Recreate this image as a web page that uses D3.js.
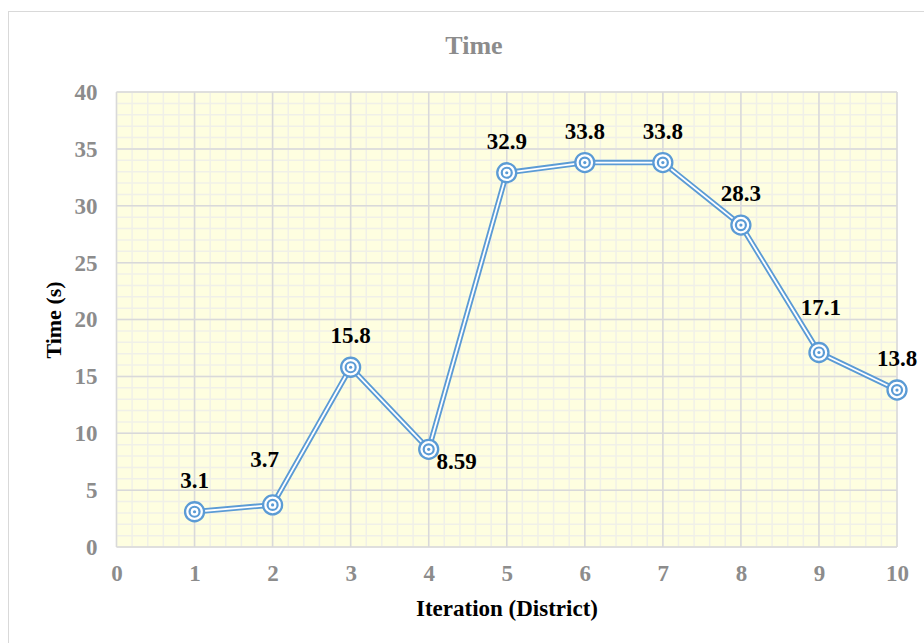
<!DOCTYPE html>
<html>
<head>
<meta charset="utf-8">
<script src="https://cdn.jsdelivr.net/npm/d3@7"></script>
<style>
  html, body { margin: 0; padding: 0; background: #fff; }
  svg { display: block; }
  text { font-family: "Liberation Serif", "Times New Roman", serif; font-weight: bold; }
</style>
</head>
<body>
<script>
// Run time per iteration (district)
const iterations = [1, 2, 3, 4, 5, 6, 7, 8, 9, 10];
const times = [3.1, 3.7, 15.8, 8.59, 32.9, 33.8, 33.8, 28.3, 17.1, 13.8];
const valueLabels = ["3.1", "3.7", "15.8", "8.59", "32.9", "33.8", "33.8", "28.3", "17.1", "13.8"];
const xTicks = [0, 1, 2, 3, 4, 5, 6, 7, 8, 9, 10];
const yTicks = [0, 5, 10, 15, 20, 25, 30, 35, 40];

const W = 924, H = 643;
const margin = { left: 116.5, right: 27, top: 92, bottom: 96 };
const blue = "#5b9bd5";

const svg = d3.select("body").append("svg").attr("width", W).attr("height", H);

// chart frame
svg.append("rect")
  .attr("x", 8.5).attr("y", 11.5)
  .attr("width", W).attr("height", H)
  .attr("fill", "#fff").attr("stroke", "#d9d9d9").attr("stroke-width", 1);

const x = d3.scaleLinear().domain([0, 10]).range([margin.left, W - margin.right]);
const y = d3.scaleLinear().domain([0, 40]).range([H - margin.bottom, margin.top]);

// plot background
svg.append("rect")
  .attr("x", x(0)).attr("y", y(40))
  .attr("width", x(10) - x(0)).attr("height", y(0) - y(40))
  .attr("fill", "#fefee0");

const grid = svg.append("g");
// minor grid
grid.selectAll("line.minor-x").data(d3.range(0, 10.001, 0.2))
  .join("line").attr("class", "minor-x")
  .attr("x1", d => x(d)).attr("x2", d => x(d))
  .attr("y1", y(0)).attr("y2", y(40))
  .attr("stroke", "#f0f0e8").attr("stroke-width", 1.5);
grid.selectAll("line.minor-y").data(d3.range(0, 40.001, 1))
  .join("line").attr("class", "minor-y")
  .attr("y1", d => y(d)).attr("y2", d => y(d))
  .attr("x1", x(0)).attr("x2", x(10))
  .attr("stroke", "#f0f0e8").attr("stroke-width", 1.5);
// major grid
grid.selectAll("line.major-x").data(xTicks)
  .join("line").attr("class", "major-x")
  .attr("x1", d => x(d)).attr("x2", d => x(d))
  .attr("y1", y(0)).attr("y2", y(40))
  .attr("stroke", "#d9d9d9").attr("stroke-width", 1.5);
grid.selectAll("line.major-y").data(yTicks)
  .join("line").attr("class", "major-y")
  .attr("y1", d => y(d)).attr("y2", d => y(d))
  .attr("x1", x(0)).attr("x2", x(10))
  .attr("stroke", "#d9d9d9").attr("stroke-width", 1.5);

// axes (labels only, no domain or ticks)
const xAxis = svg.append("g")
  .attr("transform", `translate(0,${y(0)})`)
  .call(d3.axisBottom(x).tickValues(xTicks).tickSize(0).tickPadding(18).tickFormat(d3.format("d")));
const yAxis = svg.append("g")
  .attr("transform", `translate(${x(0)},0)`)
  .call(d3.axisLeft(y).tickValues(yTicks).tickSize(0).tickPadding(19).tickFormat(d3.format("d")));
[xAxis, yAxis].forEach(g => {
  g.select(".domain").remove();
  g.selectAll("text")
    .attr("fill", "#8c8c8c")
    .style("font-family", "'Liberation Serif', 'Times New Roman', serif")
    .style("font-weight", "bold")
    .style("font-size", "23px");
});

// title and axis titles
svg.append("text")
  .attr("x", 474).attr("y", 54)
  .attr("text-anchor", "middle")
  .attr("fill", "#8c8c8c")
  .style("font-size", "26px")
  .text("Time");
svg.append("text")
  .attr("x", 507).attr("y", 616)
  .attr("text-anchor", "middle")
  .attr("fill", "#000")
  .style("font-size", "23px")
  .text("Iteration (District)");
svg.append("text")
  .attr("transform", "translate(61,320) rotate(-90)")
  .attr("text-anchor", "middle")
  .attr("fill", "#000")
  .style("font-size", "22px")
  .text("Time (s)");

// double-stroke line
const line = d3.line().x((d, i) => x(iterations[i])).y(d => y(d));
svg.append("path").datum(times)
  .attr("d", line).attr("fill", "none")
  .attr("stroke", blue).attr("stroke-width", 5.5).attr("stroke-linejoin", "round");
svg.append("path").datum(times)
  .attr("d", line).attr("fill", "none")
  .attr("stroke", "#fff").attr("stroke-width", 1.8).attr("stroke-linejoin", "round");

// concentric-circle markers
const markers = svg.append("g").selectAll("g").data(times).join("g")
  .attr("transform", (d, i) => `translate(${x(iterations[i])},${y(d)})`);
markers.append("circle").attr("r", 9.5)
  .attr("fill", "#fff").attr("stroke", blue).attr("stroke-width", 2.3);
markers.append("circle").attr("r", 5)
  .attr("fill", "#fff").attr("stroke", blue).attr("stroke-width", 2.2);
markers.append("circle").attr("r", 1.6).attr("fill", blue);

// value labels: above the point, with a few nudged to avoid the line
const labelShift = { 1: [-8, -14], 3: [28, 44], 8: [2, -13] };
svg.append("g").selectAll("text").data(times).join("text")
  .attr("x", (d, i) => x(iterations[i]) + (labelShift[i] ? labelShift[i][0] : 0))
  .attr("y", (d, i) => y(d) - 24 + (labelShift[i] ? labelShift[i][1] : 0))
  .attr("text-anchor", "middle")
  .attr("fill", "#000")
  .style("font-size", "23px")
  .text((d, i) => valueLabels[i]);
</script>
</body>
</html>
